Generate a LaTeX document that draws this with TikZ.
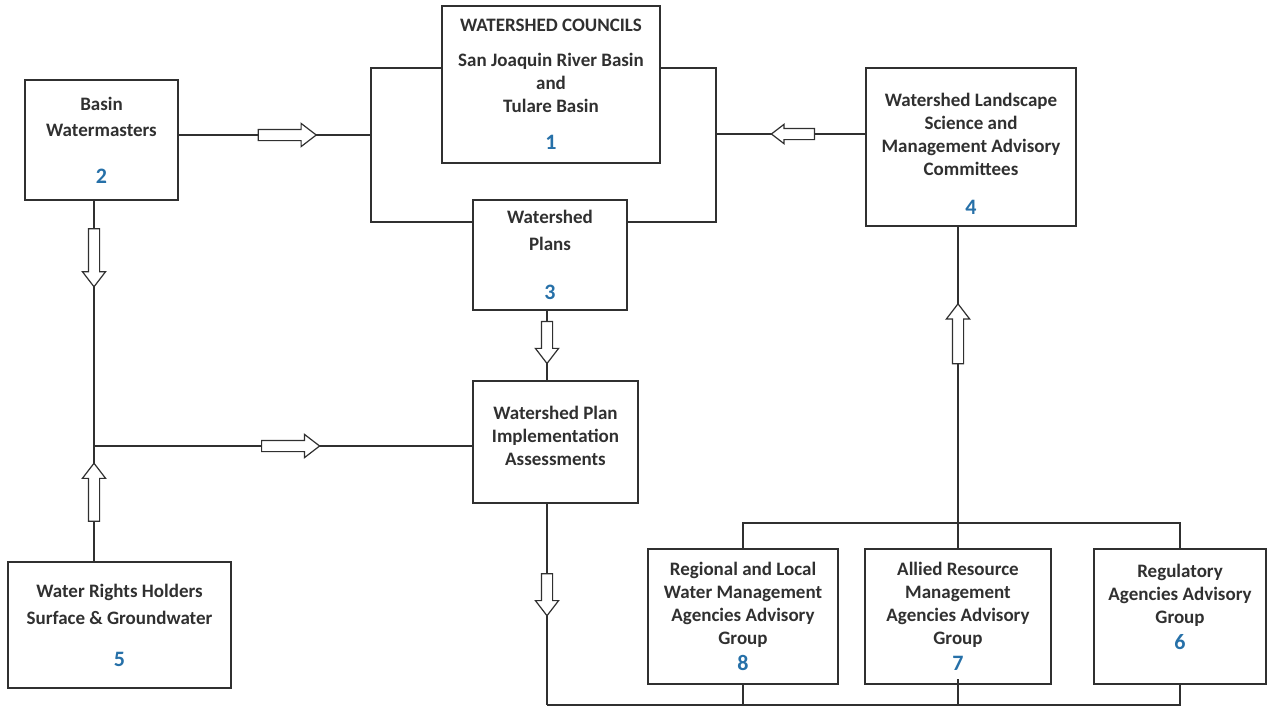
\documentclass[tikz,border=0pt]{standalone}
\usepackage{fontspec}
\setmainfont{Carlito}
\usetikzlibrary{shapes.arrows}
\definecolor{inkgray}{RGB}{48,48,48}
\definecolor{numblue}{RGB}{38,112,168}
\newcommand{\boxnum}[1]{{\fontsize{22}{23}\selectfont\textcolor{numblue}{#1}}}

\begin{document}
\begin{tikzpicture}[
    x=1pt, y=-1pt,
    every node/.style={font=\fontsize{19}{23}\selectfont\bfseries, text=inkgray},
    box/.style={rectangle, draw=inkgray, line width=1.3pt, align=center,
        inner sep=0pt},
    link/.style={draw=inkgray, line width=1.3pt},
    flow/.style={single arrow, draw=inkgray, line width=1.2pt, fill=white,
        inner sep=5pt, minimum height=58pt, single arrow head extend=6pt,
        single arrow tip angle=75, sloped, allow upside down},
]
\useasboundingbox (0,0) rectangle (1268,709);

% boxes
\node[box, minimum width=218, minimum height=157] (councils) at (551,84.5)
    {WATERSHED COUNCILS\\[12pt] San Joaquin River Basin\\ and\\ Tulare Basin\\[14pt] \boxnum{1}};
\node[box, minimum width=153, minimum height=120] (watermasters) at (101.5,140)
    {Basin\\[3pt] Watermasters\\[24pt] \boxnum{2}};
\node[box, minimum width=154, minimum height=110] (plans) at (550,255)
    {Watershed\\[4pt] Plans\\[26pt] \boxnum{3}};
\node[box, minimum width=210, minimum height=158] (committees) at (971,147)
    {\mbox{}\\[3pt] Watershed Landscape\\ Science and\\ Management Advisory\\ Committees\\[16pt] \boxnum{4}};
\node[box, minimum width=223, minimum height=126] (rights) at (119.5,625)
    {Water Rights Holders\\[4pt] Surface \& Groundwater\\[19pt] \boxnum{5}};
\node[box, minimum width=165, minimum height=122, text depth=13pt] (assess) at (555.5,442)
    {Watershed Plan\\ Implementation\\ Assessments};
\node[box, minimum width=190, minimum height=135] (regional) at (743,616.5)
    {Regional and Local\\ Water Management\\ Agencies Advisory\\ Group\\[3pt] \boxnum{8}};
\node[box, minimum width=186, minimum height=135] (allied) at (958,616.5)
    {Allied Resource\\ Management\\ Agencies Advisory\\ Group\\[3pt] \boxnum{7}};
\node[box, minimum width=172, minimum height=135, text depth=20pt] (regulatory) at (1180,616.5)
    {Regulatory\\ Agencies Advisory\\ Group\\[3pt] \boxnum{6}};

% bracket round councils and plans
\coordinate (bl1) at (371,68);
\coordinate (bl2) at (371,222);
\coordinate (br1) at (716,68);
\coordinate (br2) at (716,222);
\draw[link] (councils.west |- bl1) -- (bl1) -- (bl2) -- (plans.west |- bl2);
\draw[link] (councils.east |- br1) -- (br1) -- (br2) -- (plans.east |- br2);

% inputs
\coordinate (wmout) at (178,135);
\draw[link] (wmout) -- (bl1 |- wmout) node[flow, pos=0.547] (arrowwm) {};
\coordinate (cmout) at (866,134);
\draw[link] (cmout) -- (br1 |- cmout) node[flow, pos=0.463, minimum height=43pt,
    single arrow head extend=4pt] (arrowcm) {};

% left column
\coordinate (wmfoot) at (94,200);
\coordinate (junction) at (94,446);
\coordinate (rtop) at (94,562);
\draw[link] (wmfoot) -- (junction) node[flow, pos=0.22] (arrowdown) {};
\draw[link] (rtop) -- (junction) node[flow, pos=0.57] (arrowup) {};
\draw[link] (junction) -- (assess.west |- junction) node[flow, pos=0.51] (arrowassess) {};

% centre column
\coordinate (plfoot) at (547,310);
\draw[link] (plfoot) -- (plfoot |- assess.north) node[flow, pos=0.41, minimum height=42pt] (arrowplans) {};
\coordinate (asfoot) at (547,503);
\coordinate (bus) at (547,705);
\draw[link] (asfoot) -- (bus) node[flow, pos=0.436, minimum height=42pt] (arrowbus) {};
\draw[link] (bus) -- (regulatory.south |- bus) -- (regulatory.south);
\draw[link] (regional.south) -- (regional.south |- bus);
\coordinate (alliedtick) at (958,679);
\draw[link] (alliedtick) -- (alliedtick |- bus);

% advisory groups up to committees
\coordinate (tbus) at (958,523);
\draw[link] (regional.north) -- (regional.north |- tbus) -- (regulatory.north |- tbus) -- (regulatory.north);
\draw[link] (allied.north) -- (tbus);
\draw[link] (tbus) -- (tbus |- committees.south) node[flow, pos=0.626, minimum height=60pt] (arrowcm2) {};
\end{tikzpicture}
\end{document}
